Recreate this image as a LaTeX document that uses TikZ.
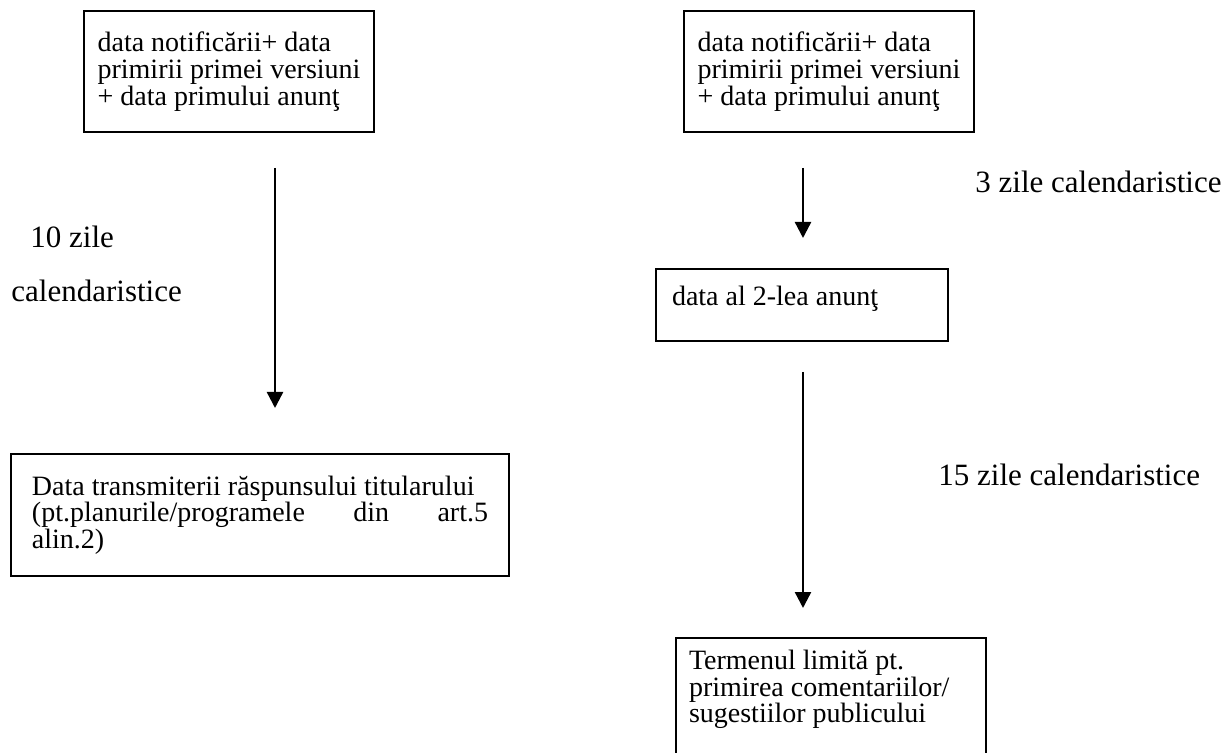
\documentclass[tikz,border=0pt]{standalone}
\usepackage{fontspec}
\setmainfont{Liberation Serif}
\usetikzlibrary{arrows.meta}

\tikzset{
  stepbox/.style={draw, line width=1pt, anchor=north west, align=left,
    inner xsep=6.5pt, font=\fontsize{14}{13.35}\selectfont},
  steplabel/.style={anchor=base west, inner sep=0pt,
    font=\fontsize{15.5}{15}\selectfont},
  steparrow/.style={-{Triangle[width=8pt,length=8pt]}, line width=1.2pt}
}

\begin{document}
\begin{tikzpicture}[x=0.5pt, y=-0.5pt]
  \useasboundingbox (0,0) rectangle (1231,753);

  % left branch
  \node[stepbox, minimum width=145pt, minimum height=60.5pt]
    (N1) at (83,10) {data notificării+ data\\primirii primei versiuni\\+ data primului anunţ};
  \node[stepbox, minimum width=249pt, minimum height=61pt, text width=228pt,
    inner xsep=10.5pt, align=flush left]
    (T1) at (10,453) {Data transmiterii răspunsului titularului\\
      (pt.planurile/programele\hfill din\hfill art.5\\alin.2)};

  % right branch
  \node[stepbox, minimum width=145pt, minimum height=60.5pt]
    (N2) at (683,10) {data notificării+ data\\primirii primei versiuni\\+ data primului anunţ};
  \node[stepbox, minimum width=146pt, minimum height=36pt, text width=130pt,
    inner xsep=8pt, align=flush left, text depth=9pt]
    (A2) at (655,268) {data al 2-lea anunţ};
  \node[stepbox, inner ysep=6pt]
    (TL) at (675,637) {\parbox[c][70pt][t]{142pt}{\raggedright
      Termenul limită pt.\\primirea comentariilor/\\sugestiilor publicului}};

  % arrows
  \coordinate (L0) at (275,168);
  \coordinate (L1) at (275,408);
  \coordinate (R0) at (803,168);
  \coordinate (R1) at (803,238);
  \coordinate (R2) at (803,372);
  \coordinate (R3) at (803,608);
  \draw[steparrow] (L0) -- (L1);
  \draw[steparrow] (R0) -- (R1);
  \draw[steparrow] (R2) -- (R3);

  % durations
  \node[steplabel] (D10a) at (30,248) {10 zile};
  \node[steplabel] (D10b) at (11,302) {calendaristice};
  \node[steplabel] (D3) at (975,193) {3 zile calendaristice};
  \node[steplabel] (D15) at (938,485) {15 zile calendaristice};
\end{tikzpicture}
\end{document}
